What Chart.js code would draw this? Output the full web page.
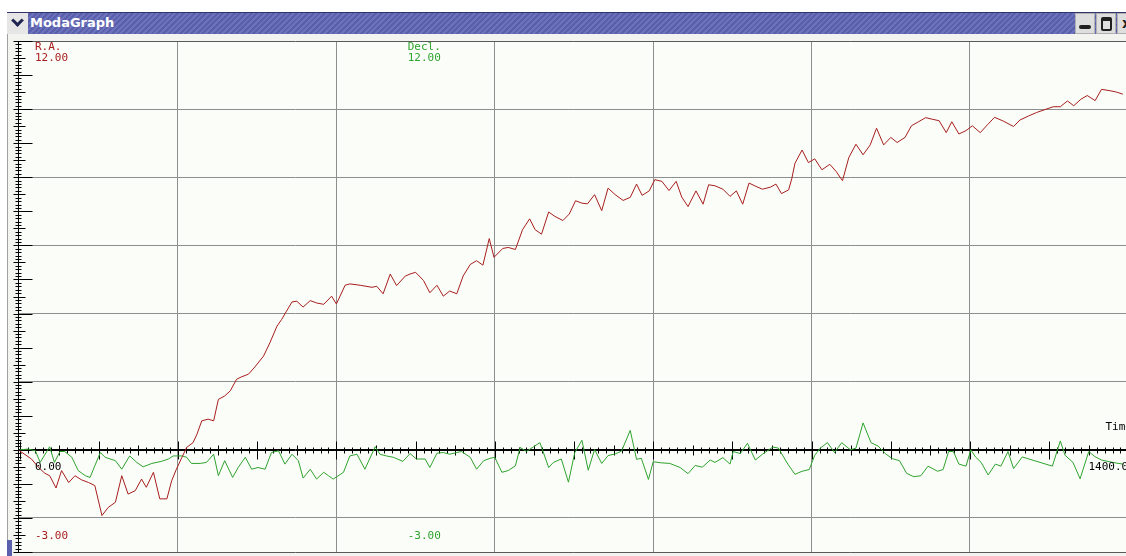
<!doctype html>
<html>
<head>
<title>ModaGraph</title>
<script src="https://cdn.jsdelivr.net/npm/chart.js@4.4.0/dist/chart.umd.min.js"></script>
<style>
body {
	margin: 0;
	width: 1126px;
	height: 556px;
	overflow: hidden;
	background: #ffffff;
	position: relative;
	font-family: "DejaVu Sans", sans-serif;
}
#frame {
	position: absolute; left: 7px; top: 34px; width: 1130px; height: 522px;
	background: #f3f3f0; border-left: 1px solid #a0a0a0;
}
#corner { position: absolute; left: 7px; top: 540px; width: 5px; height: 16px; background: #5a60ac; }
#chartbox { position: absolute; left: 0; top: 0; width: 1140px; height: 556px; z-index: 1; }
#titlebar {
	position: absolute; left: 7px; top: 12px; width: 1130px; height: 22px; z-index: 2;
	background: repeating-linear-gradient(135deg, #595fab 0px, #595fab 2px, #6c72bb 2px, #6c72bb 4px);
	border-top: 1px solid #2f3468; box-sizing: border-box;
}
#menu { position: absolute; left: 0; top: 0; width: 21px; height: 21px; background: #e6e6e6; }
#menu span {
	position: absolute; left: 6px; top: 3px; width: 6px; height: 6px;
	border-right: 3px solid #1e2450; border-bottom: 3px solid #1e2450; transform: rotate(45deg);
}
#titletext {
	position: absolute; left: 23px; top: 2px; color: #ffffff; font-weight: bold; font-size: 13px;
}
.btn {
	position: absolute; top: 0; width: 20px; height: 21px; background: #dedede;
	border: 1px solid #b0b0b0; box-sizing: border-box;
}
#bmin { left: 1068px; }
#bmax { left: 1089px; }
#bclose { left: 1110px; }
#bmin span { position: absolute; left: 3px; top: 11px; width: 12px; height: 4px; background: #202020; border-radius: 2px; }
#bmax span { position: absolute; left: 4px; top: 3px; width: 7px; height: 8px; border: 2px solid #202020; border-top-width: 4px; border-radius: 2px; }
#bclose span { position: absolute; left: 4px; top: 1px; font-size: 14px; font-weight: bold; color: #202020; }
</style>
</head>
<body>
	<div id="frame"></div>
	<div id="corner"></div>
	<div id="chartbox"><canvas id="canvas" width="1140" height="556"></canvas></div>
	<div id="titlebar">
		<div id="menu"><span></span></div>
		<div id="titletext">ModaGraph</div>
		<div class="btn" id="bmin"><span></span></div>
		<div class="btn" id="bmax"><span></span></div>
		<div class="btn" id="bclose"><span>x</span></div>
	</div>

	<script>
		// R.A. trace (time, value)
		var raTime = [0,15,24,32,38,46,53,62,70,78,87,95,104,112,121,129,137,146,154,160,169,177,186,192,198,205,211,219,224,230,238,245,251,259,266,274,280,289,297,308,316,325,331,337,344,350,358,367,375,384,394,400,411,417,430,445,451,459,468,476,487,493,500,510,518,527,535,543,552,560,569,577,585,593,599,610,617,626,635,644,651,659,668,676,686,694,702,710,717,726,735,743,752,762,771,779,786,795,802,811,820,829,836,844,854,863,870,878,888,897,905,913,921,930,938,948,955,962,971,975,979,988,996,1004,1013,1023,1031,1039,1047,1056,1065,1074,1082,1091,1100,1108,1118,1126,1135,1144,1153,1161,1170,1177,1186,1195,1203,1213,1222,1231,1242,1255,1263,1274,1284,1295,1305,1314,1323,1331,1340,1348,1358,1366,1377,1385,1393];
		var raValue = [-0.03,-0.27,-0.52,-0.69,-0.76,-1.12,-0.61,-0.96,-0.76,-0.88,-0.96,-1.05,-1.93,-1.69,-1.54,-0.76,-1.30,-1.20,-0.86,-1.10,-0.66,-1.44,-1.44,-0.91,-0.57,-0.22,0.07,0.21,0.46,0.85,0.90,0.85,1.48,1.58,1.73,2.07,2.14,2.22,2.43,2.75,3.14,3.63,3.83,4.07,4.34,4.36,4.19,4.38,4.31,4.27,4.51,4.28,4.83,4.87,4.83,4.77,4.80,4.58,5.16,4.82,5.10,5.16,5.21,4.97,4.61,4.83,4.51,4.66,4.58,5.10,5.44,5.55,5.42,6.20,5.65,5.91,5.94,5.88,6.46,6.78,6.46,6.33,6.98,6.85,6.73,6.92,7.31,7.24,7.22,7.49,7.02,7.68,7.49,7.32,7.41,7.80,7.47,7.60,7.93,7.88,7.61,7.88,7.42,7.14,7.60,7.21,7.78,7.75,7.65,7.44,7.60,7.21,7.83,7.73,7.65,7.71,7.80,7.52,7.63,7.96,8.41,8.80,8.43,8.54,8.22,8.38,8.17,7.90,8.58,8.97,8.66,8.95,9.44,8.95,9.17,9.02,9.17,9.51,9.63,9.75,9.70,9.66,9.31,9.63,9.27,9.37,9.51,9.31,9.54,9.76,9.65,9.49,9.68,9.80,9.90,9.99,10.07,10.07,10.24,10.10,10.29,10.40,10.25,10.58,10.54,10.50,10.44];

		// Decl. trace (time, value)
		var declTime = [0,11,20,26,38,44,51,57,66,74,83,89,95,102,108,121,129,139,148,156,167,179,188,194,205,211,217,228,236,245,251,259,269,276,285,293,301,310,318,327,335,344,352,358,367,375,384,390,396,409,417,426,436,449,455,463,472,484,493,501,512,518,527,535,543,552,558,569,577,586,594,600,609,617,626,632,640,649,657,668,674,684,693,701,710,718,726,735,743,752,760,771,779,785,794,800,809,821,834,844,853,862,872,878,888,897,901,910,919,929,938,951,958,970,979,988,997,1004,1011,1020,1029,1038,1049,1056,1065,1075,1084,1093,1102,1111,1120,1129,1138,1147,1159,1166,1173,1179,1186,1195,1201,1207,1214,1223,1232,1239,1248,1255,1266,1304,1314,1320,1330,1339,1350,1357,1366,1380,1393];
		var declValue = [0.00,0.02,-0.03,-0.37,0.09,-0.37,-0.05,-0.05,-0.22,-0.61,-0.76,-0.81,-0.47,-0.08,-0.22,-0.32,-0.57,-0.18,-0.37,-0.50,-0.40,-0.34,-0.27,-0.18,-0.18,-0.22,-0.40,-0.40,-0.37,-0.13,-0.76,-0.32,-0.81,-0.52,-0.22,-0.57,-0.52,-0.57,-0.08,-0.03,-0.42,-0.13,-0.32,-0.83,-0.57,-0.86,-0.66,-0.76,-0.86,-0.66,-0.18,-0.13,-0.57,0.09,-0.13,-0.18,-0.22,-0.34,-0.11,-0.27,-0.27,-0.52,-0.10,-0.08,-0.13,-0.08,-0.05,-0.22,-0.57,-0.32,-0.25,-0.22,-0.66,-0.61,-0.47,0.07,-0.05,0.09,0.21,-0.52,-0.37,-0.27,-0.95,-0.08,0.28,-0.60,0.01,-0.40,-0.17,-0.12,-0.04,0.57,-0.28,-0.25,-0.87,-0.35,-0.38,-0.40,-0.52,-0.70,-0.46,-0.51,-0.30,-0.37,-0.23,-0.42,-0.05,-0.11,0.19,-0.30,-0.13,0.08,0.05,-0.42,-0.72,-0.63,-0.58,-0.16,0.05,0.21,-0.08,0.21,0.00,0.05,0.79,0.21,0.11,-0.11,-0.26,-0.32,-0.69,-0.79,-0.76,-0.48,-0.63,-0.58,-0.05,-0.05,-0.42,-0.48,0.00,-0.21,-0.37,-0.74,-0.42,-0.48,-0.05,-0.55,-0.21,-0.48,0.26,-0.16,-0.37,-0.85,-0.05,-0.19,-0.30,-0.37,-0.42];

		// scale range: the plot starts a hair before time 0
		var timeMin = -2, timeStart = 0, timeMax = 1400, timeGrid = 200;
		var valMin = -3, valMax = 12, valGrid = 2;

		var raColor = '#a81e1e';
		var declColor = '#2fa32f';

		function toPoints(xs, ys)
		{
			var pts = [];
			for (var i = 0; i < xs.length; i++) {
				pts.push({x: xs[i], y: ys[i]});
			}
			return pts;
		}

		var axisPlugin = {
			id: 'modaAxes',
			beforeDraw: function(chart) {
				var ctx = chart.ctx, a = chart.chartArea;
				ctx.save();
				ctx.fillStyle = '#fbfdf8';
				ctx.fillRect(a.left, a.top, a.right - a.left, a.bottom - a.top);
				ctx.restore();
			},
			beforeDatasetsDraw: function(chart) {
				var ctx = chart.ctx, a = chart.chartArea;
				var xs = chart.scales.x, ys = chart.scales.y;
				var y0 = Math.round(ys.getPixelForValue(0)) + 0.5;
				var x0 = Math.round(a.left) + 0.5;
				ctx.save();
				ctx.strokeStyle = '#000000';
				ctx.lineWidth = 1;
				ctx.beginPath();
				// time axis through zero
				ctx.moveTo(a.left, y0); ctx.lineTo(a.right, y0);
				for (var t = timeStart; t <= timeMax; t += 10) {
					var px = Math.round(xs.getPixelForValue(t)) + 0.5;
					var len = (t % 100 === 0) ? 9 : (t % 50 === 0 ? 5 : 3);
					ctx.moveTo(px, y0 - len); ctx.lineTo(px, y0 + len);
				}
				// value axis on the left
				ctx.moveTo(x0, a.top); ctx.lineTo(x0, a.bottom);
				for (var i = valMin * 10; i <= valMax * 10; i++) {
					var py = Math.round(ys.getPixelForValue(i / 10)) + 0.5;
					var l = 3, r = 3;
					if (i % 10 === 0) { l = 5; r = 14; }
					else if (i % 5 === 0) { l = 5; r = 7; }
					ctx.moveTo(x0 - l, py); ctx.lineTo(x0 + r, py);
				}
				ctx.stroke();
				ctx.restore();
			},
			afterDatasetsDraw: function(chart) {
				var ctx = chart.ctx, a = chart.chartArea;
				var xs = chart.scales.x, ys = chart.scales.y;
				var top = ys.getPixelForValue(valMax), bot = ys.getPixelForValue(valMin);
				var zero = ys.getPixelForValue(0);
				var lx = a.left + 17, dx = xs.getPixelForValue(490);
				ctx.save();
				ctx.font = '11px "DejaVu Sans Mono", monospace';
				ctx.textBaseline = 'alphabetic';
				ctx.fillStyle = raColor;
				ctx.fillText('R.A.', lx, top + 9);
				ctx.fillText(valMax.toFixed(2), lx, top + 20);
				ctx.fillText(valMin.toFixed(2), lx, bot - 13);
				ctx.fillStyle = declColor;
				ctx.fillText('Decl.', dx, top + 9);
				ctx.fillText(valMax.toFixed(2), dx, top + 20);
				ctx.fillText(valMin.toFixed(2), dx, bot - 13);
				ctx.fillStyle = '#000000';
				ctx.fillText(timeStart.toFixed(2), lx, zero + 20);
				ctx.fillText(timeMax.toFixed(2), xs.getPixelForValue(timeMax) - 40, zero + 20);
				ctx.fillText('Time', xs.getPixelForValue(timeMax) - 23, zero - 20);
				ctx.restore();
			}
		};

		var ctx = document.getElementById('canvas').getContext('2d');
		window.myChart = new Chart(ctx, {
			type: 'scatter',
			data: {
				datasets: [{
					label: 'R.A.',
					data: toPoints(raTime, raValue),
					showLine: true,
					borderColor: raColor,
					borderWidth: 1,
					pointRadius: 0,
					tension: 0
				}, {
					label: 'Decl.',
					data: toPoints(declTime, declValue),
					showLine: true,
					borderColor: declColor,
					borderWidth: 1,
					pointRadius: 0,
					tension: 0
				}]
			},
			options: {
				responsive: false,
				animation: false,
				layout: { padding: { left: 18, top: 41, right: 1140 - 1128.4, bottom: 4 } },
				plugins: { legend: { display: false }, tooltip: { enabled: false } },
				scales: {
					x: {
						type: 'linear', min: timeMin, max: timeMax,
						afterBuildTicks: function(scale) {
							var list = [];
							for (var t = timeStart; t <= timeMax; t += timeGrid) list.push({value: t});
							scale.ticks = list;
						},
						ticks: { display: false },
						grid: { drawTicks: false, color: function(c) {
							var v = c.tick ? c.tick.value : null;
							if (v === timeStart) return 'rgba(0,0,0,0)';
							return '#8e8e8e';
						}, lineWidth: 1 },
						border: { display: false }
					},
					y: {
						type: 'linear', min: valMin, max: valMax,
						ticks: { display: false, stepSize: valGrid },
						grid: { drawTicks: false, color: function(c) {
							var v = c.tick ? c.tick.value : null;
							if (v === 0) return '#000000';
							if (v === valMin || v === valMax) return '#5a5a5a';
							return '#8e8e8e';
						}, lineWidth: 1 },
						border: { display: false }
					}
				}
			},
			plugins: [axisPlugin]
		});
	</script>
</body>
</html>
